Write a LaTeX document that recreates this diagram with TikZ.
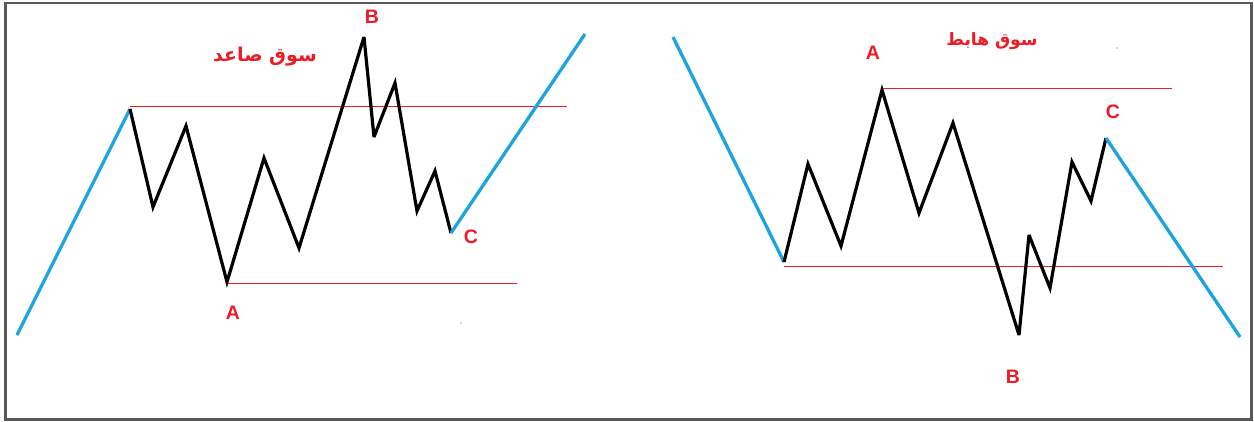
\documentclass[tikz,border=0pt]{standalone}
\usepackage{fontspec}
\setmainfont{Liberation Sans}
\newfontfamily\arabicfont[Script=Arabic]{DejaVu Sans}
\TeXXeTstate=1
\definecolor{trendblue}{RGB}{28,164,224}
\definecolor{levelred}{RGB}{237,28,36}
\tikzset{
  trend/.style={trendblue,line width=3.3pt},
  wave/.style={black,line width=3.2pt,line join=miter,miter limit=4},
  level/.style={levelred,line width=1pt},
  letter/.style={levelred,font=\bfseries\fontsize{19.5}{19.5}\selectfont,inner sep=0pt},
  title/.style={levelred,inner sep=0pt},
  speck/.style={fill=levelred!45,draw=none},
  frame/.style={draw=black!65,line width=2.5pt}
}
\begin{document}
\begin{tikzpicture}[x=1pt,y=-1pt]
\useasboundingbox (0,0) rectangle (1254,421);
\fill[white] (0,0) rectangle (1254,421);
\draw[frame] (5.5,3) rectangle (1251.5,419.5);

% ---------- left chart (uptrend) ----------
\coordinate (l0) at (17,335);
\coordinate (l1) at (130,109);
\coordinate (l2) at (153,207);
\coordinate (l3) at (186,126);
\coordinate (lA) at (227,282);
\coordinate (l5) at (264,158);
\coordinate (l6) at (299,248);
\coordinate (lB) at (364,37);
\coordinate (l8) at (374,137);
\coordinate (l9) at (395,83);
\coordinate (l10) at (417,211);
\coordinate (l11) at (435,171);
\coordinate (lC) at (451,233);
\coordinate (l13) at (585,34);
\coordinate (ltopend) at (567,106);
\coordinate (lbotend) at (517,283.5);

\draw[level] (l1 |- 0,106) -- (ltopend);
\draw[level] (lA |- 0,283.5) -- (lbotend);
\draw[trend] (l0) -- (l1);
\draw[wave] (l1) -- (l2) -- (l3) -- (lA) -- (l5) -- (l6) -- (lB) -- (l8) -- (l9) -- (l10) -- (l11) -- (lC);
\draw[trend] (lC) -- (l13);

\node[letter] (labA) at (233,313) {A};
\node[letter] (labB) at (372,17) {B};
\node[letter] (labC) at (471,237) {C};
\node[title,font=\arabicfont\bfseries\fontsize{19}{19}\selectfont] (ltitle) at (265,57) {\beginR سوق صاعد\endR};
\fill[speck] (461,323) circle (1pt);

% ---------- right chart (downtrend) ----------
\coordinate (r0) at (673,37);
\coordinate (r1) at (784,262);
\coordinate (r2) at (808,164);
\coordinate (r3) at (841,246);
\coordinate (rA) at (882,90);
\coordinate (r5) at (919,213);
\coordinate (r6) at (953,123);
\coordinate (rB) at (1019,335);
\coordinate (r8) at (1029,235);
\coordinate (r9) at (1050,288);
\coordinate (r10) at (1072,162);
\coordinate (r11) at (1091,201);
\coordinate (rC) at (1106,138);
\coordinate (r13) at (1240,337);
\coordinate (rtopend) at (1172,88);
\coordinate (rbotend) at (1223,266.5);

\draw[level] (rA |- 0,88) -- (rtopend);
\draw[level] (r1 |- 0,266.5) -- (rbotend);
\draw[trend] (r0) -- (r1);
\draw[wave] (r1) -- (r2) -- (r3) -- (rA) -- (r5) -- (r6) -- (rB) -- (r8) -- (r9) -- (r10) -- (r11) -- (rC);
\draw[trend] (rC) -- (r13);

\node[letter] (rlabA) at (873,53) {A};
\node[letter] (rlabB) at (1013,377) {B};
\node[letter] (rlabC) at (1113,112) {C};
\node[title,font=\arabicfont\bfseries\fontsize{17}{17}\selectfont] (rtitle) at (992,41) {\beginR سوق هابط\endR};
\fill[speck] (1117,48) circle (1pt);
\end{tikzpicture}
\end{document}
